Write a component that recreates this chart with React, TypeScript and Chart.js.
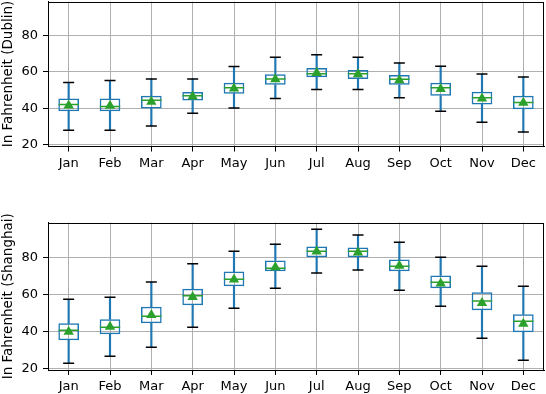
import React, { useEffect, useRef } from 'react';
import { Chart, registerables } from 'chart.js';

Chart.register(...registerables);

const months = ['Jan', 'Feb', 'Mar', 'Apr', 'May', 'Jun', 'Jul', 'Aug', 'Sep', 'Oct', 'Nov', 'Dec'];
const yTicks = [20, 40, 60, 80];

const dublinLow = [28, 28, 30.3, 37.3, 40.2, 45.4, 50.4, 50.4, 45.9, 38.4, 32.4, 27];
const dublinQ1 = [38.4, 38.4, 40, 44.3, 48.1, 53, 57.1, 56.2, 53, 46.9, 42.2, 39.5];
const dublinMedian = [42.2, 41.1, 44.5, 47, 51.4, 56.2, 59.1, 59.1, 56, 51.4, 45.9, 43.2];
const dublinQ3 = [45.4, 45.4, 47, 49, 54.1, 58.7, 62.2, 61.1, 58.4, 54.1, 49.2, 47];
const dublinHigh = [54.2, 55.3, 56.2, 56.2, 63, 68.1, 69.4, 68.1, 65, 63.2, 58.9, 57.3];
const dublinMean = [41.6, 41.5, 43.7, 46.5, 51, 56, 59.5, 58.7, 55.5, 50.7, 45.4, 43.1];

const shanghaiLow = [22.7, 26.5, 31.4, 42.2, 52.4, 63.2, 71.4, 73, 62.2, 53.5, 36.2, 24.3];
const shanghaiQ1 = [35.1, 38.4, 44.3, 54, 64.3, 72.4, 80, 80, 72.4, 63.2, 51.4, 39.5];
const shanghaiMedian = [40.5, 42.2, 48.1, 59.2, 68.1, 74, 83.2, 83.2, 75.1, 66.5, 56.4, 45.4];
const shanghaiQ3 = [44.3, 46.5, 53.3, 63, 72.2, 78.2, 85.7, 85.2, 78.7, 70.1, 61.1, 49.2];
const shanghaiHigh = [57.3, 58.4, 66.6, 76.4, 83.2, 87, 95.1, 91.9, 88.1, 80, 75.1, 64.3];
const shanghaiMean = [39.8, 42.5, 48.8, 58.5, 68, 74.5, 83, 82.5, 75.3, 65.8, 55.3, 44];

const Y_MIN = 19.1;
const Y_MAX = 98.7;

const BLUE = '#1f77b4';
const GREEN = '#2ca02c';
const FONT = 'DejaVu Sans';

const framePlugin = {
  id: 'frame',
  afterDraw(chart: any) {
    const { ctx, chartArea } = chart;
    ctx.save();
    ctx.strokeStyle = '#000';
    ctx.lineWidth = 1;
    ctx.strokeRect(Math.round(chartArea.left) + 0.5, Math.round(chartArea.top) + 0.5,
      Math.round(chartArea.right - chartArea.left) - 1, Math.round(chartArea.bottom - chartArea.top) - 1);
    ctx.restore();
  },
};

type Props = {
  title: string;
  low: number[];
  q1: number[];
  med: number[];
  q3: number[];
  high: number[];
  mean: number[];
  padTop: number;
  xHeight: number;
};

function BoxChart({ title, low, q1, med, q3, high, mean, padTop, xHeight }: Props) {
  const ref = useRef<HTMLCanvasElement>(null);
  useEffect(() => {
    if (!ref.current) return;
    const chart = new Chart(ref.current, {
      type: 'bar',
      data: {
        labels: months,
        datasets: [
          {
            type: 'bar',
            data: low.map((v, i) => [v, q1[i]]),
            backgroundColor: BLUE,
            barThickness: 1.5,
            grouped: false,
            order: 5,
          } as any,
          {
            type: 'bar',
            data: q3.map((v, i) => [v, high[i]]),
            backgroundColor: BLUE,
            barThickness: 1.5,
            grouped: false,
            order: 5,
          } as any,
          {
            type: 'bar',
            data: q1.map((v, i) => [v, q3[i]]),
            backgroundColor: 'rgba(0,0,0,0)',
            borderColor: BLUE,
            borderWidth: 1.5,
            borderSkipped: false,
            barPercentage: 0.5,
            categoryPercentage: 1,
            grouped: false,
            order: 4,
          } as any,
          {
            type: 'line',
            data: low,
            showLine: false,
            pointStyle: 'line',
            pointRadius: 5.5,
            borderColor: '#000',
            pointBorderWidth: 1.5,
            order: 3,
          } as any,
          {
            type: 'line',
            data: high,
            showLine: false,
            pointStyle: 'line',
            pointRadius: 5.5,
            borderColor: '#000',
            pointBorderWidth: 1.5,
            order: 3,
          } as any,
          {
            type: 'line',
            data: med,
            showLine: false,
            pointStyle: 'line',
            pointRadius: 10.2,
            borderColor: GREEN,
            pointBorderWidth: 1.5,
            order: 2,
          } as any,
          {
            type: 'line',
            data: mean,
            showLine: false,
            pointStyle: 'triangle',
            pointRadius: 6,
            backgroundColor: GREEN,
            borderColor: GREEN,
            pointBorderWidth: 0,
            order: 1,
          } as any,
        ],
      },
      options: {
        animation: false,
        responsive: false,
        events: [],
        layout: { autoPadding: false, padding: { top: padTop, right: 2, left: 0, bottom: 0 } },
        plugins: { legend: { display: false }, tooltip: { enabled: false } },
        scales: {
          x: {
            offset: true,
            grid: { offset: false, color: '#b0b0b0', lineWidth: 1, tickColor: '#000', tickLength: 5 },
            border: { color: '#000', width: 1 },
            ticks: { color: '#000', padding: 4, font: { family: FONT, size: 13 }, maxRotation: 0, autoSkip: false },
            afterFit: (s: any) => {
              s.height = xHeight;
              s.paddingLeft = 0;
              s.paddingRight = 0;
              s.paddingTop = 0;
              s.paddingBottom = 0;
            },
          },
          y: {
            min: Y_MIN,
            max: Y_MAX,
            grid: { color: '#b0b0b0', lineWidth: 1, tickColor: '#000', tickLength: 5 },
            border: { color: '#000', width: 1 },
            ticks: { color: '#000', padding: 5, font: { family: FONT, size: 13 } },
            afterBuildTicks: (s: any) => { s.ticks = yTicks.map((v) => ({ value: v })); },
            title: {
              display: true,
              text: title,
              color: '#000',
              padding: { top: 0, bottom: 0 },
              font: { family: FONT, size: 13.5 },
            },
            afterFit: (s: any) => {
              s.width = 48;
              s.paddingTop = 0;
              s.paddingBottom = 0;
              s.paddingLeft = 0;
              s.paddingRight = 0;
            },
          },
        },
      },
      plugins: [framePlugin],
    });
    return () => chart.destroy();
  }, []);
  return <canvas ref={ref} width={546} height={197} style={{ display: 'block', width: 546, height: 197 }} />;
}

export default function App() {
  return (
    <div style={{ position: 'absolute', left: 0, top: 0, width: 546, height: 394, background: '#fff' }}>
      <BoxChart
        title="In Fahrenheit (Dublin)"
        low={dublinLow}
        q1={dublinQ1}
        med={dublinMedian}
        q3={dublinQ3}
        high={dublinHigh}
        mean={dublinMean}
        padTop={1.5}
        xHeight={50.5}
      />
      <BoxChart
        title="In Fahrenheit (Shanghai)"
        low={shanghaiLow}
        q1={shanghaiQ1}
        med={shanghaiMedian}
        q3={shanghaiQ3}
        high={shanghaiHigh}
        mean={shanghaiMean}
        padTop={25.5}
        xHeight={24}
      />
    </div>
  );
}
